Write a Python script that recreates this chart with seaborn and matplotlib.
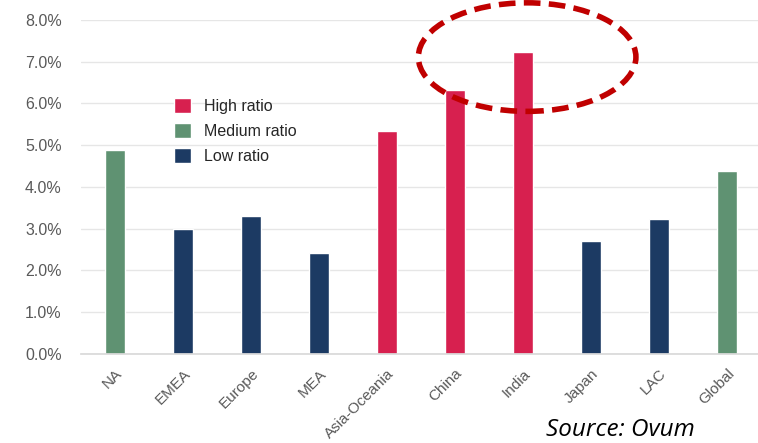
import matplotlib
matplotlib.use("Agg")
import matplotlib.pyplot as plt
from matplotlib.patches import Ellipse
from matplotlib.ticker import PercentFormatter
import seaborn as sns
import pandas as pd

regions = ["NA", "EMEA", "Europe", "MEA", "Asia-Oceania", "China", "India",
           "Japan", "LAC", "Global"]
ratios = [4.89, 3.00, 3.30, 2.42, 5.34, 6.32, 7.23, 2.71, 3.23, 4.38]
groups = ["Medium ratio", "Low ratio", "Low ratio", "Low ratio", "High ratio",
          "High ratio", "High ratio", "Low ratio", "Low ratio", "Medium ratio"]
group_order = ["High ratio", "Medium ratio", "Low ratio"]
group_colors = {"High ratio": "#D7204F", "Medium ratio": "#5F9272",
                "Low ratio": "#1C3A63"}

df = pd.DataFrame({"region": regions, "ratio": ratios, "group": groups})

sns.set_theme(style="white")
plt.rcParams["font.family"] = ["Liberation Sans", "DejaVu Sans"]

fig = plt.figure(figsize=(7.58, 4.43), dpi=100)
ax = fig.add_axes([0.107, 0.201, 0.897, 0.754])

sns.barplot(data=df, x="region", y="ratio", hue="group", hue_order=group_order,
            palette=group_colors, dodge=False, width=0.3, order=regions,
            saturation=1, ax=ax)

ax.set_ylim(0, 8)
ax.set_xlim(-0.5, 9.5)
ax.set_yticks([0, 1, 2, 3, 4, 5, 6, 7, 8])
ax.yaxis.set_major_formatter(PercentFormatter(decimals=1))
ax.grid(axis="y", color="#E6E6E6", linewidth=1)
ax.set_axisbelow(True)
for side in ["top", "right", "left"]:
    ax.spines[side].set_visible(False)
ax.spines["bottom"].set_color("#D9D9D9")
ax.set_xlabel("")
ax.set_ylabel("")
ax.tick_params(axis="y", labelsize=11.5, labelcolor="#595959", length=0, pad=14)
ax.tick_params(axis="x", labelsize=11, labelcolor="#595959", length=0, pad=9)
plt.setp(ax.get_xticklabels(), rotation=45, ha="right", rotation_mode="anchor")

leg = ax.legend(loc="upper left", bbox_to_anchor=(0.115, 0.81), frameon=False,
                fontsize=11.5, handlelength=1.1, handleheight=1.1,
                labelspacing=0.55, handletextpad=0.8)

# dashed highlight around the top performers
ax.add_patch(Ellipse((6.06, 7.11), 3.2, 2.6, fill=False, edgecolor="#C00000",
                     linewidth=4, linestyle=(0, (3, 1.5)), clip_on=False,
                     zorder=5))

fig.text(0.72, 0.015, "Source: Ovum", fontsize=17.5, style="italic",
         family=["Open Sans", "DejaVu Sans"], color="black")

fig.savefig("out.png", dpi=100)
